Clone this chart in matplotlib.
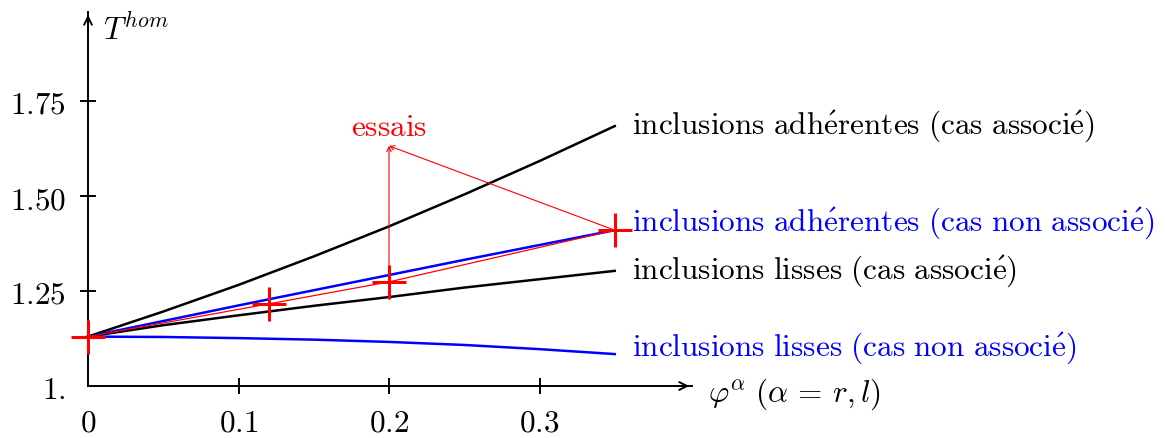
import matplotlib
matplotlib.use("Agg")
import matplotlib.pyplot as plt

plt.rcParams['mathtext.fontset'] = 'cm'
plt.rcParams['font.family'] = 'serif'
plt.rcParams['font.serif'] = ['DejaVu Serif']

# %%
# data
phi = [0.0, 0.05, 0.1, 0.15, 0.2, 0.25, 0.3, 0.35]
adh_assoc = [1.13, 1.196, 1.266, 1.341, 1.42, 1.504, 1.592, 1.684]
adh_non_assoc = [1.13, 1.171, 1.212, 1.252, 1.292, 1.332, 1.371, 1.41]
lisses_assoc = [1.13, 1.16, 1.186, 1.211, 1.234, 1.259, 1.281, 1.303]
lisses_non_assoc = [1.13, 1.129, 1.126, 1.122, 1.116, 1.108, 1.097, 1.084]

essais_phi = [0.0, 0.12, 0.2, 0.35]
essais_T = [1.13, 1.216, 1.274, 1.41]

xticks = [0, 0.1, 0.2, 0.3]
xticklabels = ['$0$', '$0.1$', '$0.2$', '$0.3$']
yticks = [1.0, 1.25, 1.5, 1.75]
yticklabels = ['$1.$', '$1.25$', '$1.50$', '$1.75$']

curves = [
    (adh_assoc, 'black', r'$\mathrm{inclusions\ adh\acute{e}rentes\ (cas\ associ\acute{e})}$', 1.686),
    (adh_non_assoc, 'blue', r'$\mathrm{inclusions\ adh\acute{e}rentes\ (cas\ non\ associ\acute{e})}$', 1.432),
    (lisses_assoc, 'black', r'$\mathrm{inclusions\ lisses\ (cas\ associ\acute{e})}$', 1.305),
    (lisses_non_assoc, 'blue', r'$\mathrm{inclusions\ lisses\ (cas\ non\ associ\acute{e})}$', 1.103),
]

FS = 22.5

# %%
W, H = 1165, 439
fig = plt.figure(figsize=(W / 100, H / 100), dpi=100)
x0, y0 = 88, 387      # pixel position of the origin
x_end, y_end = 692, 13  # arrow tips
ax = fig.add_axes([x0 / W, (H - y0) / H, (x_end - x0) / W, (y0 - y_end) / H])
ax.set_xlim(0, (x_end - x0) / 1505)
ax.set_ylim(1, 1 + (y0 - y_end) / 380)
ax.patch.set_visible(False)

for s in ['top', 'right']:
    ax.spines[s].set_visible(False)
for s in ['left', 'bottom']:
    ax.spines[s].set_linewidth(1.4)

ax.set_xticks(xticks)
ax.set_xticklabels(xticklabels)
ax.set_yticks(yticks)
ax.set_yticklabels(yticklabels)
ax.tick_params(direction='inout', length=12, width=1.4, labelsize=FS)
ax.tick_params(axis='x', pad=9)
ax.tick_params(axis='y', pad=10)
ax.xaxis.get_major_ticks()[0].tick1line.set_visible(False)
ax.yaxis.get_major_ticks()[0].tick1line.set_visible(False)

# axis arrows
ax.annotate('', xy=(1.0, 0), xytext=(0.97, 0), xycoords='axes fraction',
            arrowprops=dict(arrowstyle='->', lw=1.4, color='black', mutation_scale=14))
ax.annotate('', xy=(0, 1.0), xytext=(0, 0.97), xycoords='axes fraction',
            arrowprops=dict(arrowstyle='->', lw=1.4, color='black', mutation_scale=14))

# %%
for vals, col, label, ylab in curves:
    ax.plot(phi, vals, color=col, lw=1.8, clip_on=False)
    ax.text(0.3615, ylab, label, color=col, fontsize=FS, ha='left', va='center')

# essais
ax.plot(essais_phi, essais_T, color='red', lw=0.9, clip_on=False)
ax.plot(essais_phi, essais_T, linestyle='none', marker='+', markersize=24,
        markeredgewidth=2.2, color='red', clip_on=False, zorder=5)

tip = (0.2, 1.632)
for i in [2, 3]:
    ax.annotate('', xy=tip, xytext=(essais_phi[i], essais_T[i]),
                arrowprops=dict(arrowstyle='->', lw=0.8, color='red',
                                mutation_scale=8, shrinkA=0, shrinkB=0))
ax.text(0.2, 1.682, r'$\mathrm{essais}$', color='red', fontsize=FS, ha='center', va='center')

# axis labels
ax.text(0.01, 1.913, r'$T^{hom}$', fontsize=FS, ha='left', va='baseline')
ax.text((708 - x0) / 1505, 0.982, r'$\varphi^{\alpha}\ (\alpha\,=\,r, l)$', fontsize=FS,
        ha='left', va='center', clip_on=False)

fig.savefig('out.png', dpi=100)
